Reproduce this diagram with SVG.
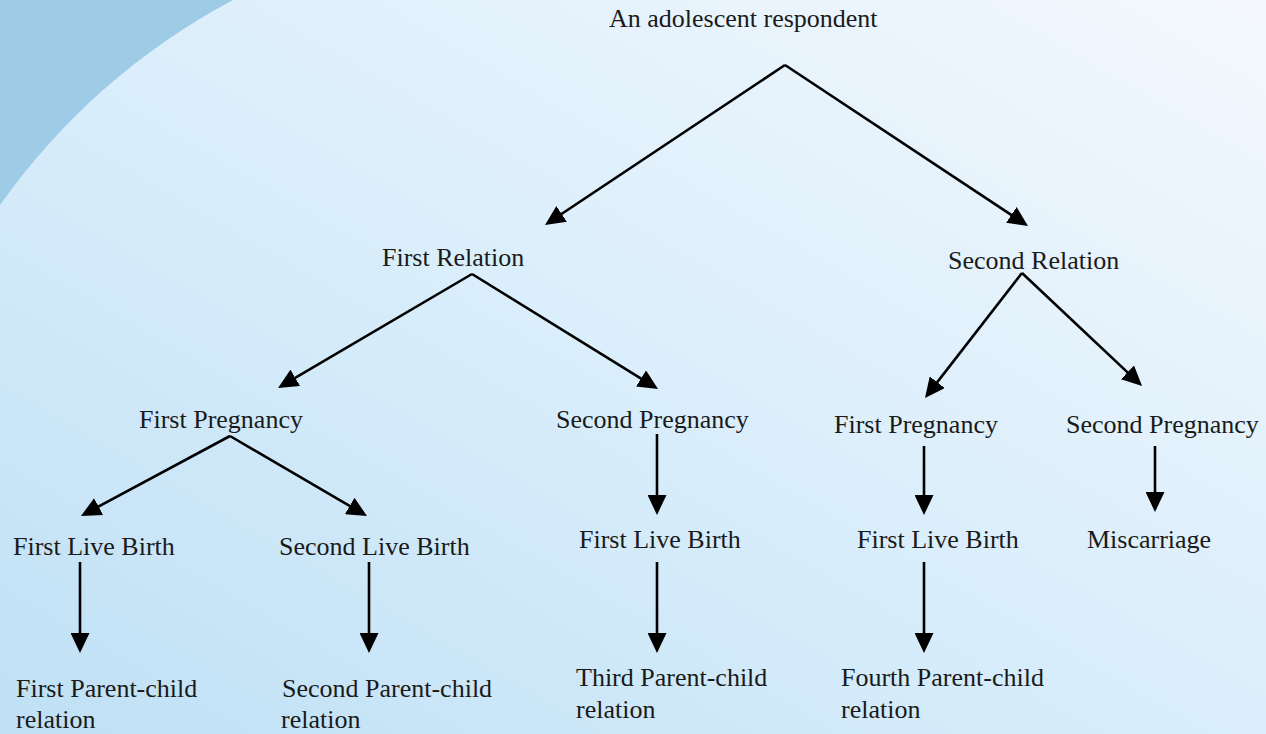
<svg xmlns="http://www.w3.org/2000/svg" width="1266" height="734" viewBox="0 0 1266 734">
<defs>
<linearGradient id="bg" x1="0" y1="1" x2="1" y2="0">
<stop offset="0" stop-color="#bfe0f5"/>
<stop offset="0.5" stop-color="#daeefb"/>
<stop offset="1" stop-color="#f4f8fd"/>
</linearGradient>
<marker id="ah" viewBox="0 0 20 19" refX="11" refY="9.5" markerWidth="20" markerHeight="19" markerUnits="userSpaceOnUse" orient="auto">
<path d="M0,0 L20,9.5 L0,19 Z" fill="#000"/>
</marker>
<style>
.t{font-size:26px;fill:#1a1a1a}
.c line{stroke:#000;stroke-width:2.6;fill:none;marker-end:url(#ah)}
</style>
</defs>
<rect width="1266" height="734" fill="url(#bg)"/>
<path d="M0,0 L233,0 A678,678 0 0,0 0,205 Z" fill="#9ecbe5"/>
<g class="c" id="connectors">
<line x1="785" y1="65" x2="552.5" y2="220"/>
<line x1="785" y1="65" x2="1020.5" y2="221"/>
<line x1="472" y1="274" x2="285.8" y2="383.4"/>
<line x1="472" y1="274" x2="650.4" y2="384.3"/>
<line x1="1022" y1="273" x2="930.5" y2="390.9"/>
<line x1="1022" y1="273" x2="1135.5" y2="379.9"/>
<line x1="230" y1="436" x2="88.9" y2="511.7"/>
<line x1="230" y1="436" x2="359.2" y2="511.5"/>
<line x1="80" y1="562" x2="80" y2="644"/>
<line x1="369" y1="562" x2="369" y2="644"/>
<line x1="657" y1="434" x2="657" y2="506"/>
<line x1="657" y1="562" x2="657" y2="644"/>
<line x1="924" y1="446" x2="924" y2="506"/>
<line x1="924" y1="562" x2="924" y2="644"/>
<line x1="1155" y1="446" x2="1155" y2="503"/>
</g>
<g font-family="Liberation Serif, Times New Roman, serif" class="t">
<g id="root"><text class="t" x="609" y="27">An adolescent respondent</text></g>
<g id="first-relation"><text class="t" x="382" y="266">First Relation</text></g>
<g id="second-relation"><text class="t" x="948" y="269">Second Relation</text></g>
<g id="fr-first-pregnancy"><text class="t" x="139" y="428">First Pregnancy</text></g>
<g id="fr-second-pregnancy"><text class="t" x="556" y="428">Second Pregnancy</text></g>
<g id="sr-first-pregnancy"><text class="t" x="834" y="433">First Pregnancy</text></g>
<g id="sr-second-pregnancy"><text class="t" x="1066" y="433">Second Pregnancy</text></g>
<g id="first-live-birth-1"><text class="t" x="13" y="555">First Live Birth</text></g>
<g id="second-live-birth"><text class="t" x="279" y="555">Second Live Birth</text></g>
<g id="first-live-birth-2"><text class="t" x="579" y="548">First Live Birth</text></g>
<g id="first-live-birth-3"><text class="t" x="857" y="548">First Live Birth</text></g>
<g id="miscarriage"><text class="t" x="1087" y="548">Miscarriage</text></g>
<g id="first-pc"><text class="t" x="16" y="697">First Parent-child</text><text class="t" x="16" y="728">relation</text></g>
<g id="second-pc"><text class="t" x="282" y="697">Second Parent-child</text><text class="t" x="281" y="728">relation</text></g>
<g id="third-pc"><text class="t" x="576" y="686">Third Parent-child</text><text class="t" x="576" y="718">relation</text></g>
<g id="fourth-pc"><text class="t" x="841" y="686">Fourth Parent-child</text><text class="t" x="841" y="718">relation</text></g>
</g>
</svg>
